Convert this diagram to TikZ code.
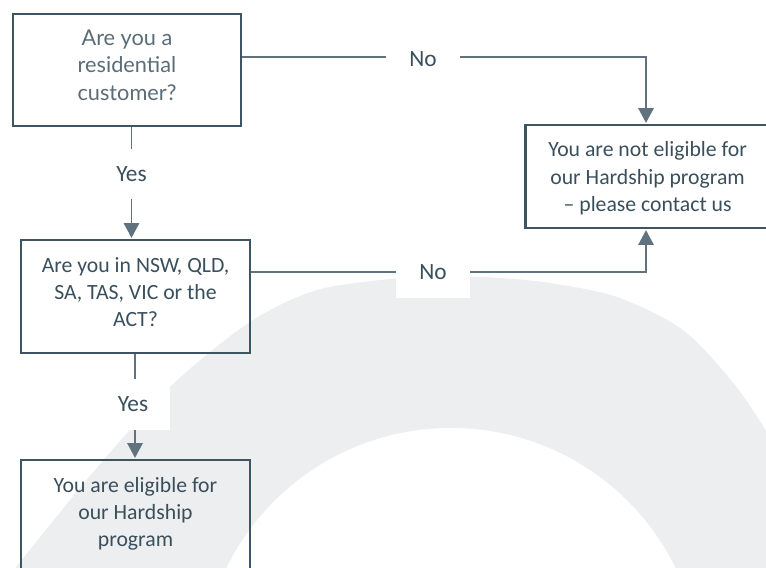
\documentclass[tikz,border=0pt]{standalone}
\usepackage{fontspec}
\setmainfont{Carlito}
\newfontfamily\museo{Lato}
\usetikzlibrary{arrows.meta}
\definecolor{boxc}{HTML}{3E5461}
\definecolor{linec}{HTML}{5F727D}
\definecolor{ringc}{HTML}{EDEEF0}
\definecolor{txtc}{HTML}{3A4F5C}
\definecolor{lighttxt}{HTML}{5A6D77}
\tikzset{
  flowbox/.style={draw=boxc, line width=2pt, inner sep=0pt},
  boxtext/.style={text=txtc, align=center, inner sep=0pt,
    font=\fontsize{16.3}{20.6}\selectfont},
  conn/.style={draw=linec, line width=1.1pt},
  arr/.style={conn, -{Triangle[length=11pt,width=11.5pt]}, shorten >=0.6pt},
  lbl/.style={fill=white, text=txtc, inner sep=0pt, minimum width=56pt,
    minimum height=38pt, font=\fontsize{17.5}{20}\selectfont}
}
\begin{document}
\begin{tikzpicture}[x=0.75pt,y=-0.75pt]
\useasboundingbox (0,0) rectangle (766,567);
\clip (0,0) rectangle (766,567);
% background ring
\fill[ringc] plot[smooth] coordinates {(12,572) (95,470) (172,385) (250,322) (317,290) (400,278) (450,276) (500,278) (550,283) (617,297) (683,330) (735,385) (772,440)} -- (772,572) -- cycle;
\fill[white] (451,678) circle[radius=187.5pt];
% boxes
\node[flowbox, minimum width=171pt, minimum height=84pt,
  label={[boxtext, text=lighttxt, font=\museo\fontsize{16.3}{20.6}\selectfont, yshift=3.8pt]center:{Are you a\\residential\\customer?}}] (q1) at (127,70) {};
\node[flowbox, minimum width=171.75pt, minimum height=84.75pt,
  label={[boxtext, yshift=3.3pt]center:{Are you in NSW, QLD,\\SA, TAS, VIC or the\\ACT?}}] (q2) at (135.5,296.5) {};
\node[flowbox, minimum width=183.5pt, minimum height=77.25pt,
  label={[boxtext, yshift=-1.5pt]center:{You are not eligible for\\our Hardship program\\– please contact us}}] (no) at (647.6,176.5) {};
\node[flowbox, minimum width=171.75pt, minimum height=84.75pt,
  label={[boxtext, yshift=2pt]center:{You are eligible for\\our Hardship\\program}}] (yes) at (135.5,516.5) {};
% connector helpers
\coordinate (j1) at (646,57);
\coordinate (j2) at (646,272);
\coordinate (v1) at (131.5,0);
\coordinate (v2) at (135,0);
% connectors
\draw[arr] (q1.east |- j1) -- (j1) -- (no.north -| j1);
\draw[arr] (q2.east |- j2) -- (j2) -- (no.south -| j2);
\draw[arr] (q1.south -| v1) -- (q2.north -| v1);
\draw[arr] (q2.south -| v2) -- (yes.north -| v2);
% labels
\node[lbl] (l1) at (423,59) {No};
\node[lbl] (l2) at (433,272.5) {No};
\node[lbl] (l3) at (131.5,174) {Yes};
\node[lbl] (l4) at (133,404.5) {Yes};
\end{tikzpicture}
\end{document}
